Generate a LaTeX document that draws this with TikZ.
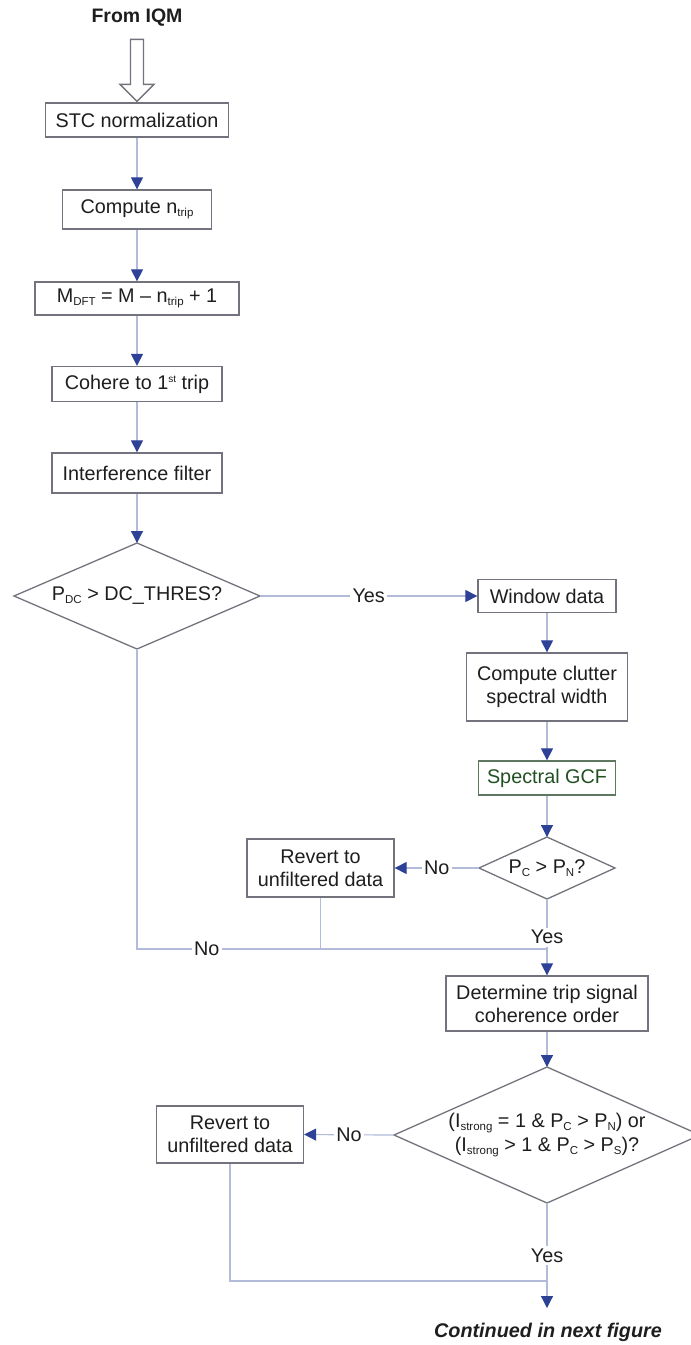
\documentclass[tikz,border=0pt]{standalone}
\usepackage{fontspec}
\setmainfont{Liberation Sans}
\usetikzlibrary{arrows.meta,calc}
\definecolor{linec}{RGB}{178,188,218}
\definecolor{tipc}{RGB}{45,65,150}
\definecolor{boxc}{RGB}{115,115,125}
\definecolor{gcfborder}{RGB}{95,120,95}
\definecolor{gcftext}{RGB}{35,80,35}
\definecolor{txt}{RGB}{30,30,30}
\newcommand\sub[1]{\raisebox{-3pt}{\fontsize{11.5}{12}\selectfont #1}}
\newcommand\supx[1]{\raisebox{7pt}{\fontsize{10}{10}\selectfont #1}}
\begin{document}
\begin{tikzpicture}[x=1pt,y=-1pt,
  every node/.style={font=\fontsize{19.8}{23}\selectfont, text=txt},
  box/.style={draw=boxc, line width=1.3pt, fill=white, align=center, inner sep=0pt},
  conn/.style={draw=linec, line width=1.2pt},
  arr/.style={conn, -{Triangle[length=12pt,width=12pt,color=tipc]}},
  lbl/.style={fill=white, inner sep=2.5pt},
  dia/.style={draw=boxc, line width=1.3pt, line join=miter}
]
\clip (0,0) rectangle (691,1345);

% left column
\node[font=\bfseries\fontsize{19.5}{23}\selectfont] (iqm) at (137,18) {From IQM};
\node[box, minimum width=183pt, minimum height=34pt] (stc) at (137,120) {STC normalization};
\node[box, minimum width=149pt, minimum height=39pt] (ntrip) at (137,209.5) {Compute n\sub{trip}};
\node[box, minimum width=204pt, minimum height=33pt] (mdft) at (137,298.5) {M\sub{DFT} = M – n\sub{trip} + 1};
\node[box, minimum width=170pt, minimum height=35pt] (coh) at (137,384) {Cohere to 1\supx{st} trip};
\node[box, minimum width=170pt, minimum height=40pt] (intf) at (137,473) {Interference filter};

% decision 1
\node (d1) at (137,596) {P\sub{DC} > DC\_THRES?};
\coordinate (d1t) at ($(d1)+(0,-53)$);
\coordinate (d1r) at ($(d1)+(123,0)$);
\coordinate (d1b) at ($(d1)+(0,53)$);
\coordinate (d1l) at ($(d1)+(-123,0)$);
\draw[dia] (d1t) -- (d1r) -- (d1b) -- (d1l) -- cycle;

% right column
\node[box, minimum width=138pt, minimum height=33pt] (win) at (547,596) {Window data};
\node[box, minimum width=161pt, minimum height=68pt] (clut) at (547,687) {Compute clutter\\spectral width};
\node[box, draw=gcfborder, text=gcftext, minimum width=137pt, minimum height=34pt] (gcf) at (547,778) {Spectral GCF};

% decision 2
\node (d2) at (547,868) {P\sub{C} > P\sub{N}?};
\coordinate (d2t) at ($(d2)+(0,-31)$);
\coordinate (d2r) at ($(d2)+(68,0)$);
\coordinate (d2b) at ($(d2)+(0,31)$);
\coordinate (d2l) at ($(d2)+(-68,0)$);
\draw[dia] (d2t) -- (d2r) -- (d2b) -- (d2l) -- cycle;

\node[box, minimum width=147pt, minimum height=58pt] (rv1) at (320.5,868) {Revert to\\unfiltered data};
\node[box, minimum width=202pt, minimum height=55pt] (det) at (547,1003.5) {Determine trip signal\\coherence order};

% decision 3
\node[align=center, font=\fontsize{19.8}{24}\selectfont] (d3) at (547,1135) {(I\sub{strong} = 1 \& P\sub{C} > P\sub{N}) or\\(I\sub{strong} > 1 \& P\sub{C} > P\sub{S})?};
\coordinate (d3t) at ($(d3)+(0,-68)$);
\coordinate (d3r) at ($(d3)+(153,0)$);
\coordinate (d3b) at ($(d3)+(0,68)$);
\coordinate (d3l) at ($(d3)+(-153,0)$);
\draw[dia] (d3t) -- (d3r) -- (d3b) -- (d3l) -- cycle;

\node[box, minimum width=147pt, minimum height=57pt] (rv2) at (230,1134.5) {Revert to\\unfiltered data};

\coordinate (end) at (547,1308);
\node[font=\bfseries\itshape\fontsize{19.8}{23}\selectfont] (cont) at (548,1332) {Continued in next figure};

\coordinate (j1) at (547,949);
\coordinate (j2) at (547,1281);

% hollow input arrow
\draw[boxc, line width=1.3pt, fill=white, line join=miter]
  ($(stc.north)+(-6.5,-63)$) -- ($(stc.north)+(-6.5,-18)$) -- ($(stc.north)+(-17,-18)$)
  -- ($(stc.north)+(0,-1)$) -- ($(stc.north)+(17,-18)$) -- ($(stc.north)+(6.5,-18)$)
  -- ($(stc.north)+(6.5,-63)$) -- cycle;

% connectors
\draw[arr] (stc) -- (ntrip);
\draw[arr] (ntrip) -- (mdft);
\draw[arr] (mdft) -- (coh);
\draw[arr] (coh) -- (intf);
\draw[arr] (intf) -- (d1t);
\draw[arr] (d1r) -- node[lbl]{Yes} (win.west);
\draw[arr] (win) -- (clut);
\draw[arr] (clut) -- (gcf);
\draw[arr] (gcf) -- (d2t);
\draw[arr] (d2l) -- node[lbl]{No} (rv1.east);
\draw[conn] (d1b) -- (d1b |- j1) -- node[lbl,pos=0.17]{No} (j1);
\draw[conn] (rv1.south) -- (rv1.south |- j1);
\draw[arr] (d2b) -- node[lbl]{Yes} (det.north);
\draw[arr] (det) -- (d3t);
\draw[arr] (d3l) -- node[lbl]{No} (rv2.east);
\draw[conn] (rv2.south) |- (j2);
\draw[arr] (d3b) -- node[lbl]{Yes} (end);
\end{tikzpicture}
\end{document}
